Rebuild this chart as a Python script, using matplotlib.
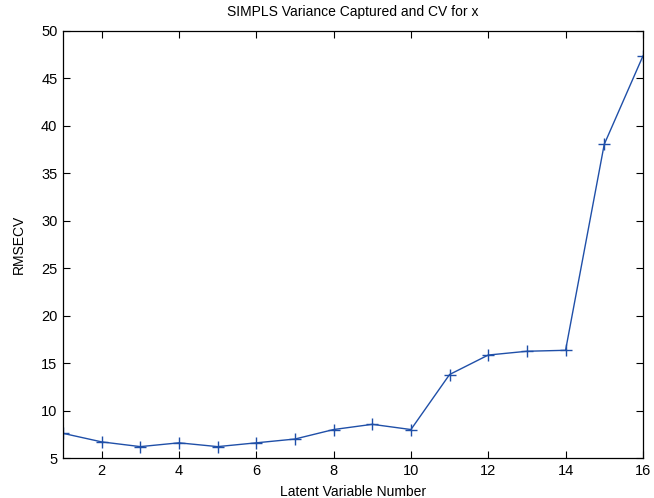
import matplotlib
matplotlib.use("Agg")
import matplotlib.pyplot as plt

# RMSECV per number of latent variables
lv = [1, 2, 3, 4, 5, 6, 7, 8, 9, 10, 11, 12, 13, 14, 15, 16]
rmsecv = [7.6, 6.7, 6.2, 6.6, 6.2, 6.6, 7.0, 8.0, 8.55, 8.0,
          13.8, 15.85, 16.25, 16.35, 38.05, 47.35]

xticks = [2, 4, 6, 8, 10, 12, 14, 16]
yticks = [5, 10, 15, 20, 25, 30, 35, 40, 45, 50]

plt.rcParams['font.family'] = ['Liberation Sans', 'DejaVu Sans']

fig = plt.figure(figsize=(6.54, 4.98), dpi=100)
ax = fig.add_axes([0.0963, 0.0803, 0.8867, 0.8575])

ax.plot(lv, rmsecv, color='#1f4fa8', linewidth=1.0, marker='+',
        markersize=8, markeredgewidth=1.0)

ax.set_xlim(1, 16)
ax.set_ylim(5, 50)
ax.set_xticks(xticks)
ax.set_yticks(yticks)
ax.tick_params(direction='in', top=True, right=True, length=5,
               labelsize=10.5, width=0.8, pad=4)
for s in ax.spines.values():
    s.set_linewidth(0.9)

ax.set_xlabel('Latent Variable Number', fontsize=10, labelpad=5)
ax.set_ylabel('RMSECV', fontsize=10, labelpad=11)
ax.set_title('SIMPLS Variance Captured and CV for x', fontsize=10, pad=11)

fig.savefig('out.png', dpi=100)
